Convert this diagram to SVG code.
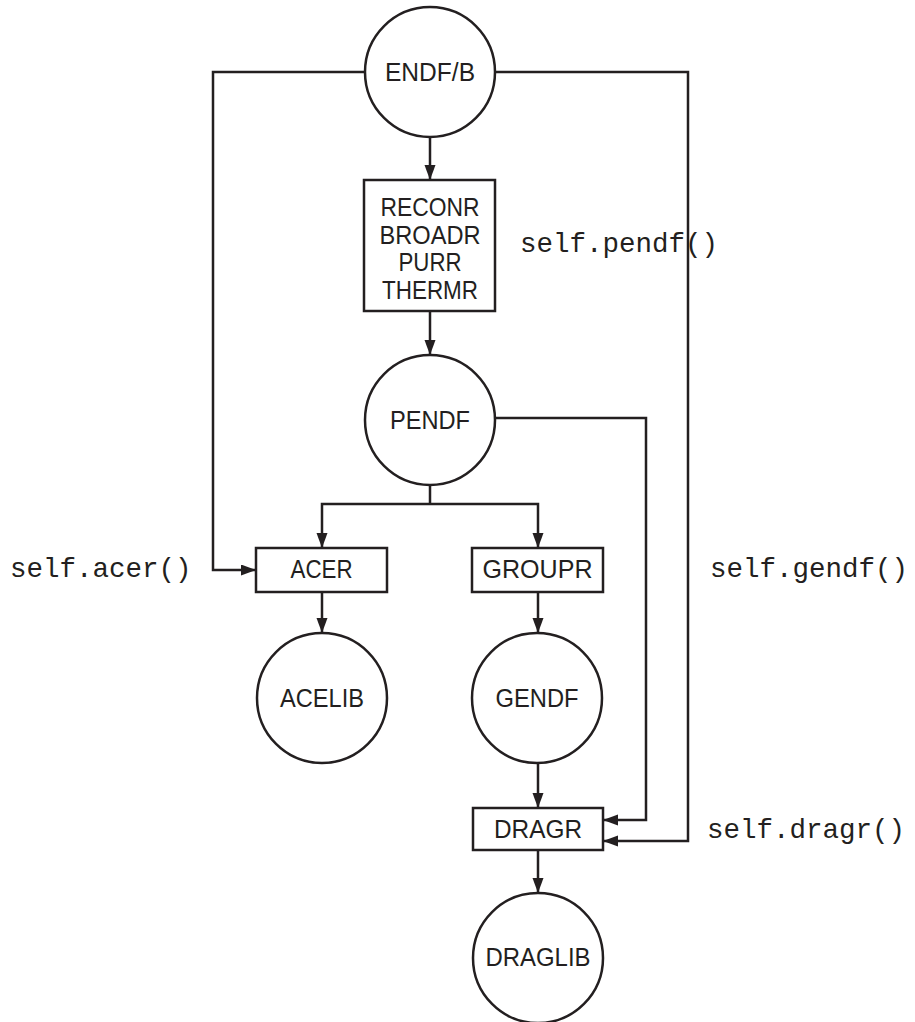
<svg xmlns="http://www.w3.org/2000/svg" width="915" height="1022" viewBox="0 0 915 1022">
<style>
.node{fill:#fff;stroke:#231f20;stroke-width:2.5}
.lbl{font-family:"Liberation Sans",Arial,sans-serif;font-size:26px;fill:#231f20;text-anchor:middle}
.code{font-family:"Liberation Mono","Courier New",monospace;font-size:27.5px;fill:#231f20}
.conn{fill:none;stroke:#231f20;stroke-width:2.5;marker-end:url(#arr)}
.conn-plain{fill:none;stroke:#231f20;stroke-width:2.5}
</style>
<defs>
<marker id="arr" markerUnits="userSpaceOnUse" markerWidth="16" markerHeight="12" refX="15" refY="5.5" orient="auto">
<path d="M0,0 L15,5.5 L0,11 Z" fill="#231f20"/>
</marker>
</defs>
<rect width="915" height="1022" fill="#fff"/>
<g id="connectors">
<path class="conn" d="M430,137 V180"/>
<path class="conn" d="M430,311 V355"/>
<path class="conn-plain" d="M430,485 V504"/>
<path class="conn" d="M430,504 H322 V548"/>
<path class="conn" d="M430,504 H538 V548"/>
<path class="conn" d="M365,72 H213 V570 H256"/>
<path class="conn" d="M495,72 H688 V841 H603"/>
<path class="conn" d="M495,418 H646 V820 H603"/>
<path class="conn" d="M322,592 V633"/>
<path class="conn" d="M538,592 V633"/>
<path class="conn" d="M538,764 V808"/>
<path class="conn" d="M538,850 V893"/>
</g>
<g id="endfb"><circle class="node" cx="430" cy="72" r="65"/><text class="lbl" x="430" y="81" textLength="90" lengthAdjust="spacingAndGlyphs">ENDF/B</text></g>
<g id="modules"><rect class="node" x="364" y="180" width="131" height="131"/>
<text class="lbl" x="430" y="216" textLength="99" lengthAdjust="spacingAndGlyphs">RECONR</text>
<text class="lbl" x="430" y="243.5" textLength="101" lengthAdjust="spacingAndGlyphs">BROADR</text>
<text class="lbl" x="430" y="271" textLength="63" lengthAdjust="spacingAndGlyphs">PURR</text>
<text class="lbl" x="430" y="298.5" textLength="96" lengthAdjust="spacingAndGlyphs">THERMR</text></g>
<g id="pendf"><circle class="node" cx="430" cy="420" r="65"/><text class="lbl" x="430" y="429" textLength="80" lengthAdjust="spacingAndGlyphs">PENDF</text></g>
<g id="acer"><rect class="node" x="256" y="548" width="131" height="44"/><text class="lbl" x="321.5" y="578" textLength="62" lengthAdjust="spacingAndGlyphs">ACER</text></g>
<g id="groupr"><rect class="node" x="472" y="548" width="131" height="44"/><text class="lbl" x="537.5" y="578" textLength="110" lengthAdjust="spacingAndGlyphs">GROUPR</text></g>
<g id="acelib"><circle class="node" cx="322" cy="698" r="65"/><text class="lbl" x="322" y="707" textLength="84" lengthAdjust="spacingAndGlyphs">ACELIB</text></g>
<g id="gendf"><circle class="node" cx="537" cy="698" r="65"/><text class="lbl" x="537" y="707" textLength="83" lengthAdjust="spacingAndGlyphs">GENDF</text></g>
<g id="dragr"><rect class="node" x="473" y="808" width="130" height="42"/><text class="lbl" x="538" y="838" textLength="88" lengthAdjust="spacingAndGlyphs">DRAGR</text></g>
<g id="draglib"><circle class="node" cx="538" cy="958" r="65"/><text class="lbl" x="538" y="966" textLength="105" lengthAdjust="spacingAndGlyphs">DRAGLIB</text></g>
<g id="labels">
<text class="code" x="520" y="252">self.pendf()</text>
<text class="code" x="10" y="577">self.acer()</text>
<text class="code" x="710" y="577">self.gendf()</text>
<text class="code" x="707" y="838">self.dragr()</text>
</g>
</svg>
